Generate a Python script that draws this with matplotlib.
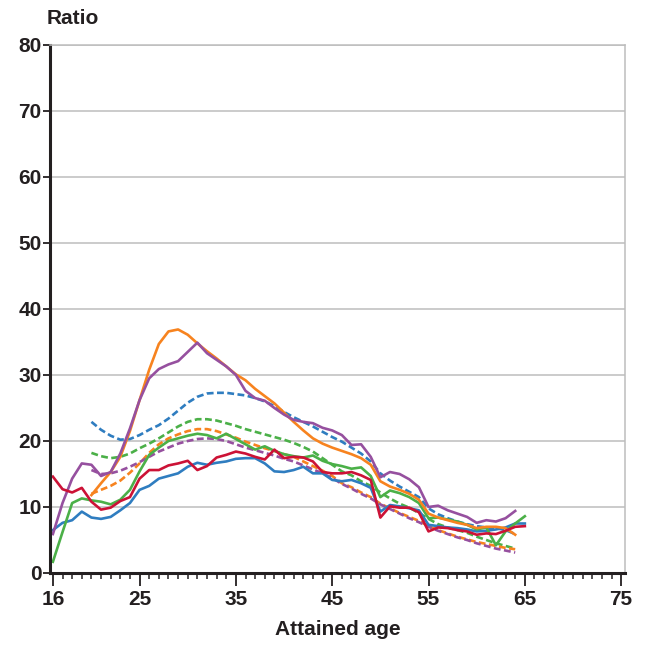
import matplotlib
matplotlib.use('Agg')
import matplotlib.pyplot as plt
import numpy as np

plt.rcParams['font.family'] = ['Liberation Sans', 'DejaVu Sans']
plt.rcParams['font.weight'] = 'bold'

# ages
age_solid = np.arange(16, 66)          # 16..65
age_orange = np.arange(20, 65)         # 20..64
age_purple = np.arange(16, 65)         # 16..64
age_dash = np.arange(20, 65)           # 20..64

blue_solid = [6.5, 7.6, 8.0, 9.3, 8.4, 8.2, 8.5, 9.5, 10.6, 12.6,
              13.2, 14.3, 14.7, 15.1, 16.1, 16.7, 16.4, 16.7, 16.9, 17.3,
              17.4, 17.4, 16.6, 15.4, 15.3, 15.6, 16.1, 15.1, 15.1, 14.1,
              13.9, 14.1, 13.6, 12.9, 9.3, 10.3, 10.1, 9.8, 9.5, 7.3,
              7.1, 6.9, 6.8, 6.6, 6.3, 6.4, 6.6, 6.9, 7.5, 7.5]
orange_solid = [11.8, 13.6, 15.3, 17.6, 21.5, 26.2, 30.8, 34.7, 36.6, 36.9,
                36.1, 34.8, 33.6, 32.5, 31.3, 30.1, 29.2, 27.9, 26.8, 25.7,
                24.3, 22.9, 21.6, 20.4, 19.6, 19.0, 18.5, 18.0, 17.4, 16.4,
                13.9, 13.1, 12.6, 12.0, 11.1, 9.0, 8.4, 8.0, 7.6, 7.3,
                6.8, 7.0, 7.0, 6.8, 5.8]
green_solid = [1.7, 6.2, 10.6, 11.3, 11.0, 10.8, 10.4, 11.1, 12.6, 15.4,
               17.9, 19.0, 20.0, 20.4, 20.8, 21.1, 20.9, 20.4, 21.1, 20.3,
               19.5, 18.7, 19.2, 18.5, 18.0, 17.7, 17.5, 17.8, 17.0, 16.5,
               16.2, 15.8, 16.0, 14.7, 11.5, 12.5, 12.1, 11.5, 10.6, 8.3,
               8.4, 8.1, 7.8, 7.3, 6.6, 6.9, 4.2, 6.3, 7.5, 8.6]
red_solid = [14.6, 12.7, 12.2, 12.9, 10.8, 9.6, 9.9, 10.9, 11.5, 14.3,
             15.6, 15.6, 16.3, 16.6, 17.0, 15.6, 16.2, 17.5, 17.9, 18.4,
             18.1, 17.6, 17.2, 18.7, 17.4, 17.6, 17.5, 16.9, 15.3, 15.1,
             15.1, 15.3, 14.8, 14.1, 8.4, 10.1, 9.9, 9.9, 9.2, 6.3,
             6.9, 6.8, 6.5, 6.3, 5.8, 6.0, 5.9, 6.4, 7.0, 7.1]
purple_solid = [5.9, 10.6, 14.3, 16.6, 16.4, 14.7, 15.3, 18.1, 21.9, 26.2,
                29.5, 30.9, 31.6, 32.1, 33.5, 34.9, 33.3, 32.3, 31.3, 30.0,
                27.6, 26.5, 26.1, 25.0, 24.0, 23.2, 22.9, 22.7, 22.0, 21.6,
                20.9, 19.4, 19.5, 17.6, 14.5, 15.3, 15.0, 14.2, 13.0, 10.0,
                10.2, 9.5, 9.0, 8.5, 7.6, 8.0, 7.8, 8.3, 9.4]

blue_dash = [22.9, 21.7, 20.8, 20.2, 20.3, 20.9, 21.7, 22.4, 23.4, 24.6,
             25.8, 26.7, 27.2, 27.3, 27.3, 27.1, 26.9, 26.5, 26.0, 25.3,
             24.4, 23.6, 22.9, 22.2, 21.4, 20.6, 19.9, 19.0, 18.1, 16.9,
             15.1, 14.0, 13.1, 12.3, 11.5, 9.8, 8.9, 8.3, 7.8, 7.4,
             7.1, 6.9, 6.8, 6.5, 5.9]
orange_dash = [12.0, 12.6, 13.2, 14.0, 15.2, 16.6, 18.2, 19.5, 20.4, 21.0,
               21.5, 21.8, 21.8, 21.5, 21.0, 20.5, 19.9, 19.4, 18.9, 18.5,
               18.0, 17.6, 16.9, 16.2, 15.5, 14.7, 13.6, 13.0, 12.2, 11.5,
               10.5, 9.8, 9.1, 8.5, 7.9, 7.1, 6.5, 6.0, 5.5, 5.1,
               4.7, 4.4, 4.1, 3.8, 3.6]
green_dash = [18.2, 17.7, 17.4, 17.6, 18.1, 18.9, 19.6, 20.4, 21.3, 22.2,
              22.9, 23.3, 23.3, 23.1, 22.7, 22.3, 21.8, 21.4, 21.0, 20.6,
              20.2, 19.7, 19.1, 18.4, 17.4, 16.4, 15.4, 14.8, 13.9, 13.2,
              12.2, 11.3, 10.5, 9.9, 9.1, 8.2, 7.4, 6.9, 6.5, 6.1,
              5.5, 5.0, 4.5, 4.1, 3.7]
purple_dash = [15.6, 15.0, 15.1, 15.5, 16.1, 16.8, 17.6, 18.4, 19.0, 19.6,
               20.0, 20.3, 20.4, 20.3, 20.0, 19.5, 19.0, 18.6, 18.2, 17.8,
               17.3, 16.9, 16.3, 15.7, 15.1, 14.4, 13.5, 12.8, 12.0, 11.3,
               10.4, 9.7, 9.0, 8.3, 7.7, 7.0, 6.4, 5.9, 5.4, 5.0,
               4.5, 4.1, 3.7, 3.4, 3.1]

c_blue, c_orange, c_green, c_red, c_purple = '#2f7dc0', '#f7831f', '#4bb048', '#cc1236', '#96509f'
grey = '#bdbdbd'
dark = '#231f20'
lw = 1.9
dash = (0, (2.6, 1.3))

fig = plt.figure(figsize=(6.6, 6.45), dpi=100)
ax = fig.add_axes([50/660, 1-573/645, 575/660, 528/645])

ax.plot(age_dash, blue_dash, color=c_blue, lw=lw, linestyle=dash)
ax.plot(age_dash, green_dash, color=c_green, lw=lw, linestyle=dash)
ax.plot(age_dash, orange_dash, color=c_orange, lw=lw, linestyle=dash)
ax.plot(age_dash, purple_dash, color=c_purple, lw=lw, linestyle=dash)
ax.plot(age_solid, blue_solid, color=c_blue, lw=lw)
ax.plot(age_solid, green_solid, color=c_green, lw=lw)
ax.plot(age_orange, orange_solid, color=c_orange, lw=lw)
ax.plot(age_purple, purple_solid, color=c_purple, lw=lw)
ax.plot(age_solid, red_solid, color=c_red, lw=lw)

ax.set_xlim(15.7, 75.4)
ax.set_ylim(0, 80)
ax.set_xticks([16, 25, 35, 45, 55, 65, 75])
ax.set_xticks(np.arange(16, 76), minor=True)
ax.set_yticks(np.arange(0, 81, 10))
ax.yaxis.grid(True, color=grey, lw=1.1)
ax.set_axisbelow(True)

for s in ['left', 'bottom']:
    ax.spines[s].set_color(dark)
    ax.spines[s].set_linewidth(2.2)
for s in ['top', 'right']:
    ax.spines[s].set_color(grey)
    ax.spines[s].set_linewidth(1.1)

ax.tick_params(axis='y', length=5, width=1.3, color=dark, pad=1, labelsize=15)
ax.tick_params(axis='x', which='major', length=9, width=1.3, color=dark, pad=3, labelsize=15)
ax.tick_params(axis='x', which='minor', length=4.5, width=1.1, color=dark)
for t in ax.get_xticklabels() + ax.get_yticklabels():
    t.set_fontweight('bold')
    t.set_color(dark)

ax.set_xlabel('Attained age', fontsize=15, fontweight='bold', color=dark, labelpad=8)
fig.text(47/660, 1-18/645, 'Ratio', fontsize=15, fontweight='bold', color=dark, ha='left', va='center')

fig.savefig('out.png', dpi=100)
